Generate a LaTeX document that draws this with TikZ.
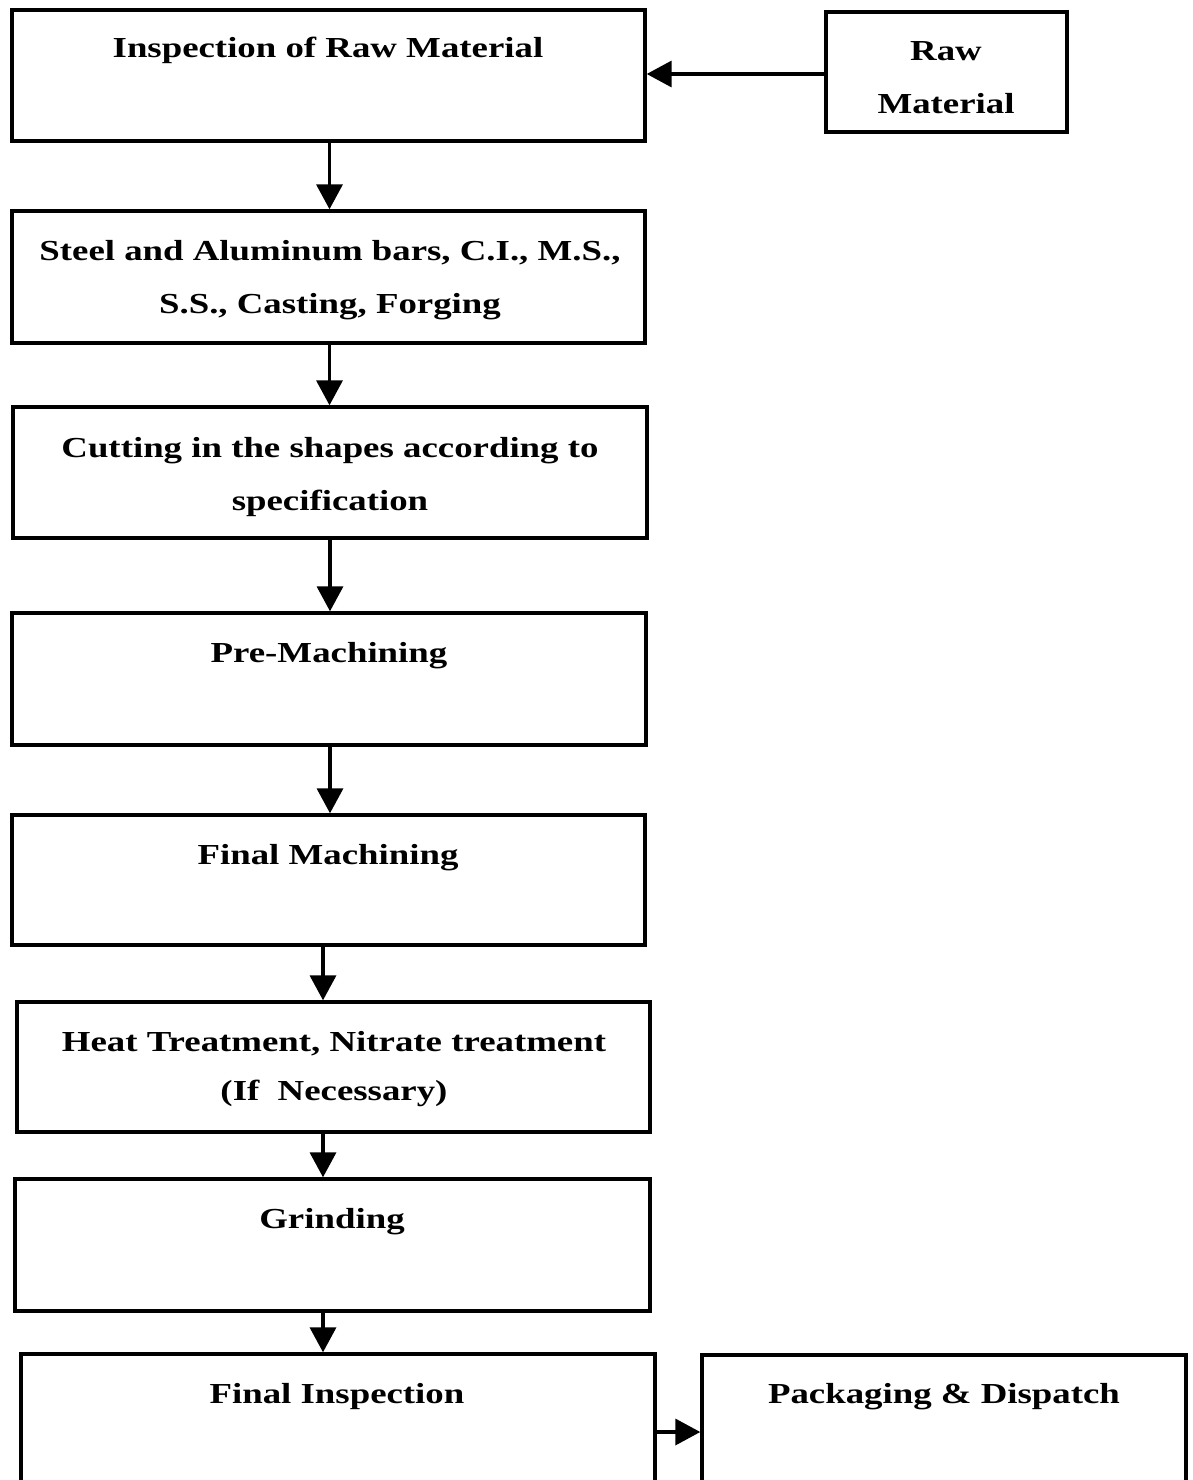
\documentclass[tikz,border=0pt]{standalone}
\usepackage{fontspec}
\setmainfont[FakeStretch=1.27]{Liberation Serif}
\usetikzlibrary{arrows.meta}
\begin{document}
\begin{tikzpicture}[x=1pt,y=-1pt,
  box/.style={draw=black,line width=3.4pt,rectangle,inner sep=0pt},
  txt/.style={anchor=base,inner sep=0pt,font=\fontsize{29}{52}\selectfont\bfseries},
  flow/.style={line width=3.6pt,-{Triangle[width=26pt,length=25pt]}}]
\useasboundingbox (0,0) rectangle (1192,1480);
\clip (0,0) rectangle (1192,1480);
\fill[white] (0,0) rectangle (1192,1480);
% boxes
\node[box,minimum width=633pt,minimum height=131pt] (B1) at (328.5,75.5) {};
\node[box,minimum width=241pt,minimum height=120pt] (RM) at (946.5,72) {};
\node[box,minimum width=633pt,minimum height=132pt] (B2) at (328.5,277) {};
\node[box,minimum width=634pt,minimum height=131pt] (B3) at (330,472.5) {};
\node[box,minimum width=634pt,minimum height=132pt] (B4) at (329,679) {};
\node[box,minimum width=633pt,minimum height=130pt] (B5) at (328.5,880) {};
\node[box,minimum width=633pt,minimum height=130pt] (B6) at (333.5,1067) {};
\node[box,minimum width=635pt,minimum height=132pt] (B7) at (332.5,1245) {};
\node[box,minimum width=634pt,minimum height=156pt] (B8) at (338,1432) {};
\node[box,minimum width=484pt,minimum height=154pt] (PD) at (944,1432) {};
% texts
\node[txt] (t1) at (328,58) {Inspection of Raw Material};
\node[txt] (t2a) at (946,60) {Raw};
\node[txt] (t2b) at (946,113) {Material};
\node[txt] (t3a) at (330,260) {Steel and Aluminum bars, C.I., M.S.,};
\node[txt] (t3b) at (330,313) {S.S., Casting, Forging};
\node[txt] (t4a) at (330,457) {Cutting in the shapes according to};
\node[txt] (t4b) at (330,510) {specification};
\node[txt] (t5) at (329,662) {Pre-Machining};
\node[txt] (t6) at (328,864) {Final Machining};
\node[txt] (t7a) at (334,1051) {Heat Treatment, Nitrate treatment};
\node[txt] (t7b) at (334,1100) {(If\ \ Necessary)};
\node[txt] (t8) at (332,1228) {Grinding};
\node[txt] (t9) at (337,1403) {Final Inspection};
\node[txt] (t10) at (944,1403) {Packaging \& Dispatch};
% connectors
\draw[flow] ([yshift=-2pt]RM.west) -- ([yshift=-2pt]RM.west -| B1.east);
\draw[flow] ([xshift=1pt]B1.south) -- ([xshift=1pt]B1.south |- B2.north);
\draw[flow] ([xshift=1pt]B2.south) -- ([xshift=1pt]B2.south |- B3.north);
\draw[flow] (B3.south) -- (B3.south |- B4.north);
\draw[flow] ([xshift=1pt]B4.south) -- ([xshift=1pt]B4.south |- B5.north);
\draw[flow] ([xshift=-5.5pt]B5.south) -- ([xshift=-5.5pt]B5.south |- B6.north);
\draw[flow] ([xshift=-10.5pt]B6.south) -- ([xshift=-10.5pt]B6.south |- B7.north);
\draw[flow] ([xshift=-9.5pt]B7.south) -- ([xshift=-9.5pt]B7.south |- B8.north);
\draw[flow] (B8.east) -- (B8.east -| PD.west);
\end{tikzpicture}
\end{document}
